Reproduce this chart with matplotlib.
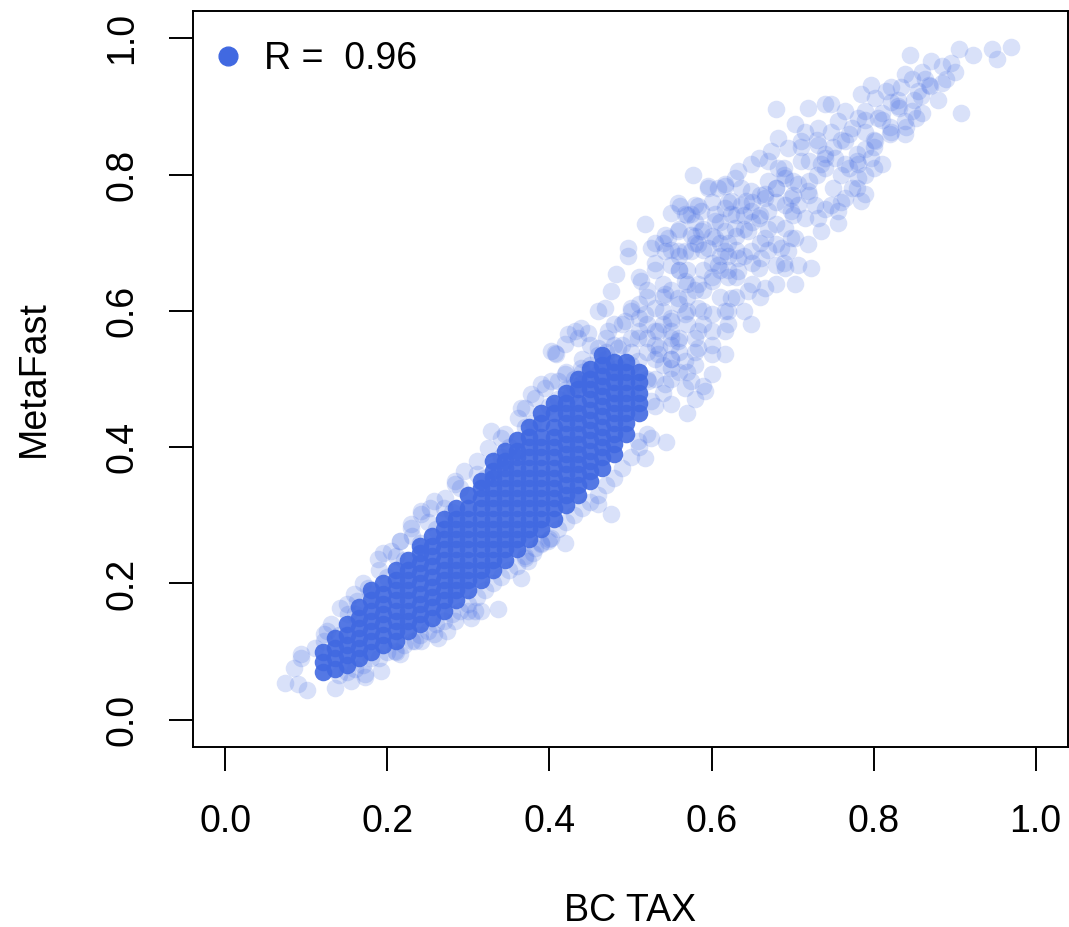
import matplotlib.pyplot as plt
from matplotlib.lines import Line2D

plt.rcParams['font.family'] = ['Liberation Sans', 'DejaVu Sans']

POINT_COLOR = '#4169E1'

# individual points (BC TAX, MetaFast)
bc_tax = [
    # upper-right sparse tail
    0.845, 0.905, 0.923, 0.946, 0.952, 0.970, 0.871, 0.884, 0.896, 0.901, 0.864, 0.868, 0.884,
    0.839, 0.847, 0.834, 0.855, 0.859, 0.822, 0.815, 0.797, 0.785, 0.802, 0.822, 0.831, 0.847,
    0.852, 0.839, 0.908, 0.839, 0.822, 0.806, 0.790, 0.781, 0.765, 0.748, 0.740, 0.719, 0.680,
    0.756, 0.773, 0.790, 0.802, 0.790, 0.765, 0.748, 0.732, 0.716, 0.703, 0.711, 0.732, 0.740,
    0.735, 0.753, 0.765, 0.781, 0.797, 0.810, 0.781, 0.773, 0.785, 0.790, 0.765, 0.756, 0.748,
    0.728, 0.732, 0.719, 0.707, 0.691, 0.682, 0.670, 0.674, 0.695, 0.682, 0.658, 0.649, 0.633,
    0.629, 0.617, 0.577, 0.596, 0.608, 0.637, 0.649, 0.666, 0.679, 0.698, 0.707, 0.698, 0.716,
    0.756, 0.735, 0.559, 0.550, 0.567, 0.580, 0.587, 0.604, 0.617, 0.624, 0.637, 0.649, 0.658,
    0.670, 0.679, 0.691, 0.703, 0.719, 0.695, 0.679, 0.666, 0.645, 0.629, 0.617, 0.604, 0.587,
    0.575, 0.559, 0.546, 0.543, 0.559, 0.575, 0.596, 0.617, 0.633, 0.649, 0.661, 0.679, 0.707,
    0.723,
    # clusters inside the upper tail
    0.66, 0.68, 0.70, 0.72, 0.70, 0.73, 0.75, 0.74, 0.76, 0.78, 0.77, 0.79, 0.80, 0.82, 0.81,
    0.83, 0.85, 0.86, 0.84, 0.87, 0.88, 0.89, 0.86, 0.72, 0.71, 0.69, 0.67, 0.65, 0.63, 0.62,
    0.74, 0.76, 0.78, 0.80,
    0.60, 0.62, 0.64, 0.66, 0.68, 0.70, 0.72, 0.74, 0.76, 0.78, 0.80, 0.82, 0.69, 0.71, 0.73,
    0.75, 0.77, 0.79, 0.81, 0.83,
    # middle, semi-dense part
    0.518, 0.497, 0.497, 0.482, 0.476, 0.468, 0.431, 0.447, 0.402, 0.408, 0.410, 0.389, 0.377,
    0.365, 0.561, 0.575, 0.583, 0.596, 0.617, 0.543, 0.525, 0.513, 0.550, 0.567, 0.583, 0.604,
    0.624, 0.642, 0.666, 0.691, 0.698, 0.686, 0.691, 0.703, 0.649, 0.617, 0.617, 0.592, 0.575,
    0.600, 0.624, 0.645, 0.666, 0.658, 0.633, 0.608, 0.600, 0.583, 0.567, 0.559, 0.543, 0.530,
    0.518, 0.501, 0.493, 0.472, 0.460, 0.485, 0.509, 0.534, 0.550, 0.567, 0.583, 0.600, 0.617,
    0.583, 0.559, 0.534, 0.509, 0.485, 0.460, 0.439, 0.439, 0.426, 0.550, 0.567, 0.583, 0.600,
    0.567, 0.543, 0.522, 0.501, 0.481, 0.525, 0.550,
    0.53, 0.54, 0.55, 0.52, 0.50, 0.53, 0.56, 0.58, 0.55, 0.52, 0.49, 0.51, 0.54, 0.57, 0.59,
    0.61, 0.60, 0.57, 0.54, 0.52, 0.56, 0.59, 0.62, 0.63, 0.64, 0.61, 0.58, 0.56, 0.53, 0.48,
    0.47, 0.46, 0.44, 0.45, 0.47, 0.42, 0.43, 0.56, 0.58, 0.60, 0.62, 0.64, 0.66, 0.68, 0.69,
    0.67, 0.65, 0.63, 0.58, 0.57,
    0.47, 0.49, 0.51, 0.53, 0.55, 0.57, 0.59, 0.48, 0.50, 0.52, 0.54, 0.56, 0.58, 0.60, 0.62,
    0.51, 0.53, 0.55, 0.57, 0.59, 0.61, 0.63, 0.65, 0.54, 0.56, 0.58, 0.60, 0.62, 0.64, 0.66,
    0.57, 0.59, 0.61, 0.63, 0.65, 0.67, 0.53, 0.54, 0.535, 0.55, 0.52, 0.55,
    0.50, 0.52, 0.53, 0.55, 0.56, 0.58, 0.54, 0.57, 0.59, 0.61, 0.60, 0.62, 0.55, 0.57, 0.59,
    0.51, 0.53, 0.55, 0.58, 0.56,
    # edges of the dense band
    0.194, 0.188, 0.176, 0.163, 0.151, 0.126, 0.122, 0.110, 0.093, 0.085, 0.073, 0.089, 0.101,
    0.135, 0.155, 0.172, 0.192, 0.216, 0.241, 0.262, 0.274, 0.299, 0.315, 0.336, 0.303, 0.283,
    0.373, 0.365, 0.382, 0.389, 0.229, 0.241, 0.253, 0.216, 0.204, 0.407, 0.419, 0.435, 0.328,
    0.345, 0.324, 0.311, 0.295, 0.283, 0.271, 0.258, 0.241, 0.229, 0.216, 0.361, 0.370, 0.382,
    0.394, 0.402, 0.419, 0.476, 0.460, 0.419, 0.402, 0.518, 0.509, 0.525, 0.544, 0.370, 0.398,
    0.308, 0.258, 0.234, 0.209, 0.172, 0.423, 0.439, 0.460, 0.340, 0.283, 0.159, 0.142, 0.122,
    0.093,
    # fringe above / below the dense band
    0.13, 0.15, 0.17, 0.19, 0.21, 0.23, 0.25, 0.27, 0.29, 0.31, 0.33, 0.35, 0.37, 0.39, 0.41,
    0.43, 0.45, 0.47,
    0.15, 0.17, 0.19, 0.21, 0.23, 0.25, 0.27, 0.29, 0.31, 0.33, 0.35, 0.37, 0.39, 0.41, 0.43,
    0.45, 0.47, 0.49, 0.51,
    0.14, 0.16, 0.18, 0.20, 0.22, 0.24, 0.26, 0.28, 0.30, 0.32, 0.34, 0.36, 0.38, 0.40, 0.42,
    0.44, 0.46, 0.48, 0.50,
    0.14, 0.16, 0.18, 0.20, 0.22, 0.24, 0.26, 0.28, 0.30, 0.32, 0.34, 0.36, 0.38, 0.40, 0.42,
    0.44, 0.46, 0.48, 0.50, 0.52,
]

metafast = [
    0.976, 0.984, 0.976, 0.984, 0.970, 0.987, 0.966, 0.959, 0.963, 0.951, 0.940, 0.932, 0.934,
    0.948, 0.940, 0.929, 0.922, 0.915, 0.929, 0.922, 0.932, 0.918, 0.912, 0.907, 0.897, 0.893,
    0.883, 0.878, 0.890, 0.859, 0.863, 0.883, 0.893, 0.883, 0.893, 0.903, 0.903, 0.897, 0.896,
    0.878, 0.868, 0.863, 0.849, 0.837, 0.849, 0.863, 0.868, 0.863, 0.874, 0.849, 0.844, 0.824,
    0.815, 0.824, 0.815, 0.815, 0.824, 0.815, 0.795, 0.780, 0.761, 0.771, 0.765, 0.746, 0.756,
    0.756, 0.736, 0.776, 0.786, 0.795, 0.809, 0.820, 0.834, 0.839, 0.853, 0.824, 0.815, 0.805,
    0.795, 0.786, 0.800, 0.783, 0.780, 0.780, 0.776, 0.771, 0.780, 0.765, 0.756, 0.746, 0.736,
    0.729, 0.717, 0.758, 0.743, 0.742, 0.756, 0.746, 0.742, 0.751, 0.761, 0.756, 0.746, 0.736,
    0.746, 0.727, 0.721, 0.707, 0.698, 0.688, 0.698, 0.707, 0.717, 0.721, 0.717, 0.707, 0.717,
    0.712, 0.717, 0.707, 0.688, 0.688, 0.688, 0.692, 0.688, 0.677, 0.688, 0.677, 0.668, 0.668,
    0.663,
    0.74, 0.76, 0.74, 0.77, 0.79, 0.80, 0.78, 0.83, 0.85, 0.83, 0.81, 0.80, 0.84, 0.86, 0.88,
    0.90, 0.91, 0.89, 0.87, 0.93, 0.91, 0.94, 0.95, 0.82, 0.84, 0.81, 0.79, 0.76, 0.74, 0.70,
    0.75, 0.76, 0.78, 0.81,
    0.76, 0.76, 0.74, 0.77, 0.78, 0.77, 0.79, 0.81, 0.80, 0.82, 0.85, 0.87, 0.80, 0.82, 0.85,
    0.84, 0.86, 0.88, 0.89, 0.91,
    0.727, 0.692, 0.680, 0.654, 0.629, 0.604, 0.570, 0.567, 0.541, 0.537, 0.497, 0.493, 0.478,
    0.457, 0.754, 0.742, 0.754, 0.780, 0.783, 0.712, 0.692, 0.644, 0.668, 0.688, 0.698, 0.732,
    0.742, 0.761, 0.765, 0.756, 0.707, 0.692, 0.663, 0.639, 0.581, 0.570, 0.537, 0.482, 0.497,
    0.507, 0.619, 0.629, 0.633, 0.663, 0.658, 0.668, 0.644, 0.639, 0.644, 0.619, 0.625, 0.604,
    0.595, 0.604, 0.585, 0.570, 0.545, 0.545, 0.560, 0.570, 0.585, 0.595, 0.604, 0.595, 0.600,
    0.570, 0.556, 0.537, 0.526, 0.516, 0.507, 0.516, 0.493, 0.478, 0.516, 0.526, 0.545, 0.537,
    0.487, 0.493, 0.497, 0.487, 0.478, 0.468, 0.463,
    0.46, 0.48, 0.50, 0.50, 0.52, 0.53, 0.54, 0.56, 0.57, 0.58, 0.58, 0.61, 0.60, 0.62, 0.60,
    0.62, 0.65, 0.66, 0.64, 0.63, 0.68, 0.69, 0.68, 0.65, 0.72, 0.73, 0.73, 0.72, 0.70, 0.50,
    0.52, 0.49, 0.53, 0.55, 0.56, 0.51, 0.49, 0.51, 0.52, 0.55, 0.58, 0.60, 0.62, 0.64, 0.67,
    0.69, 0.67, 0.62, 0.47, 0.45,
    0.53, 0.55, 0.57, 0.55, 0.53, 0.51, 0.49, 0.58, 0.60, 0.62, 0.58, 0.56, 0.54, 0.57, 0.60,
    0.65, 0.67, 0.63, 0.60, 0.63, 0.66, 0.69, 0.64, 0.70, 0.66, 0.70, 0.67, 0.65, 0.68, 0.70,
    0.74, 0.72, 0.70, 0.71, 0.73, 0.72, 0.50, 0.52, 0.545, 0.56, 0.56, 0.53,
    0.56, 0.54, 0.57, 0.59, 0.61, 0.63, 0.62, 0.64, 0.66, 0.68, 0.71, 0.66, 0.55, 0.58, 0.58,
    0.59, 0.66, 0.69, 0.71, 0.66,
    0.245, 0.236, 0.194, 0.174, 0.155, 0.130, 0.116, 0.106, 0.097, 0.076, 0.054, 0.053, 0.043,
    0.047, 0.057, 0.062, 0.072, 0.097, 0.116, 0.120, 0.130, 0.160, 0.160, 0.163, 0.150, 0.145,
    0.233, 0.208, 0.252, 0.258, 0.281, 0.302, 0.311, 0.262, 0.248, 0.538, 0.551, 0.560, 0.424,
    0.419, 0.399, 0.380, 0.365, 0.346, 0.325, 0.321, 0.306, 0.287, 0.262, 0.443, 0.457, 0.472,
    0.487, 0.497, 0.507, 0.302, 0.317, 0.260, 0.267, 0.384, 0.409, 0.413, 0.408, 0.238, 0.262,
    0.160, 0.126, 0.116, 0.101, 0.067, 0.566, 0.575, 0.600, 0.413, 0.350, 0.185, 0.164, 0.126,
    0.091,
    0.14, 0.17, 0.20, 0.22, 0.24, 0.27, 0.29, 0.31, 0.34, 0.36, 0.38, 0.40, 0.43, 0.45, 0.47,
    0.50, 0.52, 0.54,
    0.07, 0.08, 0.09, 0.10, 0.115, 0.13, 0.145, 0.16, 0.18, 0.20, 0.22, 0.24, 0.26, 0.28, 0.30,
    0.32, 0.345, 0.37, 0.40,
    0.125, 0.155, 0.185, 0.21, 0.235, 0.26, 0.28, 0.305, 0.33, 0.355, 0.385, 0.41, 0.435, 0.46,
    0.485, 0.51, 0.535, 0.55, 0.54,
    0.065, 0.075, 0.09, 0.10, 0.11, 0.125, 0.14, 0.155, 0.17, 0.19, 0.21, 0.225, 0.245, 0.265,
    0.29, 0.31, 0.33, 0.355, 0.385, 0.42,
]

# the saturated core of the cloud, one column of MetaFast values per BC TAX value
core_bc_tax = [0.12, 0.135, 0.15, 0.165, 0.18, 0.195, 0.21, 0.225, 0.24, 0.255, 0.27, 0.285,
               0.30, 0.315, 0.33, 0.345, 0.36, 0.375, 0.39, 0.405, 0.42, 0.435, 0.45, 0.465,
               0.48, 0.495, 0.51]
core_metafast = [
    [0.07, 0.085, 0.10],
    [0.075, 0.09, 0.105, 0.12],
    [0.08, 0.095, 0.11, 0.125, 0.14],
    [0.09, 0.105, 0.12, 0.135, 0.15, 0.165],
    [0.10, 0.115, 0.13, 0.145, 0.16, 0.175, 0.19],
    [0.11, 0.125, 0.14, 0.155, 0.17, 0.185, 0.20],
    [0.115, 0.13, 0.145, 0.16, 0.175, 0.19, 0.205, 0.22],
    [0.13, 0.145, 0.16, 0.175, 0.19, 0.205, 0.22, 0.235],
    [0.14, 0.155, 0.17, 0.185, 0.20, 0.215, 0.23, 0.245, 0.255],
    [0.15, 0.165, 0.18, 0.195, 0.21, 0.225, 0.24, 0.255, 0.27],
    [0.16, 0.175, 0.19, 0.205, 0.22, 0.235, 0.25, 0.265, 0.28, 0.295],
    [0.175, 0.19, 0.205, 0.22, 0.235, 0.25, 0.265, 0.28, 0.295, 0.31],
    [0.19, 0.205, 0.22, 0.235, 0.25, 0.265, 0.28, 0.295, 0.31, 0.33],
    [0.205, 0.22, 0.235, 0.25, 0.265, 0.28, 0.295, 0.31, 0.325, 0.34, 0.35],
    [0.22, 0.235, 0.25, 0.265, 0.28, 0.295, 0.31, 0.325, 0.34, 0.355, 0.365, 0.38],
    [0.235, 0.25, 0.265, 0.28, 0.295, 0.31, 0.325, 0.34, 0.355, 0.37, 0.38, 0.395],
    [0.25, 0.265, 0.28, 0.295, 0.31, 0.325, 0.34, 0.355, 0.37, 0.385, 0.395, 0.41],
    [0.265, 0.28, 0.295, 0.31, 0.325, 0.34, 0.355, 0.37, 0.385, 0.40, 0.415, 0.43],
    [0.28, 0.295, 0.31, 0.325, 0.34, 0.355, 0.37, 0.385, 0.40, 0.415, 0.435, 0.45],
    [0.295, 0.31, 0.325, 0.34, 0.355, 0.37, 0.385, 0.40, 0.415, 0.43, 0.45, 0.465],
    [0.315, 0.33, 0.345, 0.36, 0.375, 0.39, 0.405, 0.42, 0.435, 0.45, 0.465, 0.48],
    [0.33, 0.345, 0.36, 0.375, 0.39, 0.405, 0.42, 0.435, 0.45, 0.465, 0.485, 0.50],
    [0.35, 0.365, 0.38, 0.395, 0.41, 0.425, 0.44, 0.455, 0.47, 0.485, 0.50, 0.515],
    [0.37, 0.385, 0.40, 0.415, 0.43, 0.445, 0.46, 0.475, 0.49, 0.505, 0.52, 0.535],
    [0.39, 0.405, 0.42, 0.435, 0.45, 0.465, 0.48, 0.495, 0.51, 0.525],
    [0.42, 0.435, 0.45, 0.465, 0.48, 0.495, 0.51, 0.525],
    [0.45, 0.465, 0.48, 0.495, 0.51],
]

ticks = [0.0, 0.2, 0.4, 0.6, 0.8, 1.0]
tick_labels = ['0.0', '0.2', '0.4', '0.6', '0.8', '1.0']
legend_label = 'R =  0.96'

W, H = 1069, 927
fig = plt.figure(figsize=(W / 100, H / 100), dpi=100)
ax = fig.add_axes([193 / W, 1 - 747 / H, (1068 - 193) / W, (747 - 11) / H])

cx, cy = [], []
for x, ys in zip(core_bc_tax, core_metafast):
    for y in ys:
        cx.append(x)
        cy.append(y)

ax.scatter(cx, cy, s=160, color=POINT_COLOR, alpha=0.9, linewidths=0)
ax.scatter(bc_tax, metafast, s=160, color=POINT_COLOR, alpha=0.2, linewidths=0)

ax.set_xlim(-0.04, 1.04)
ax.set_ylim(-0.04, 1.04)
ax.set_xticks(ticks, tick_labels)
ax.set_yticks(ticks, tick_labels)
ax.tick_params(direction='out', length=17, width=1.4, labelsize=27)
ax.tick_params(axis='x', pad=24)
ax.tick_params(axis='y', labelrotation=90, pad=21)
for lab in ax.get_yticklabels():
    lab.set_va('center')
for sp in ax.spines.values():
    sp.set_linewidth(1.4)

ax.set_xlabel('BC TAX', fontsize=27, labelpad=38)
ax.set_ylabel('MetaFast', fontsize=27, labelpad=38)

handle = Line2D([], [], marker='o', ls='', color=POINT_COLOR, markersize=13.5)
ax.legend([handle], [legend_label], loc='upper left', bbox_to_anchor=(0.006, 0.98),
          borderaxespad=0, frameon=False, fontsize=27,
          handletextpad=0.55, handlelength=0.8)

fig.savefig('out.png', dpi=100)
